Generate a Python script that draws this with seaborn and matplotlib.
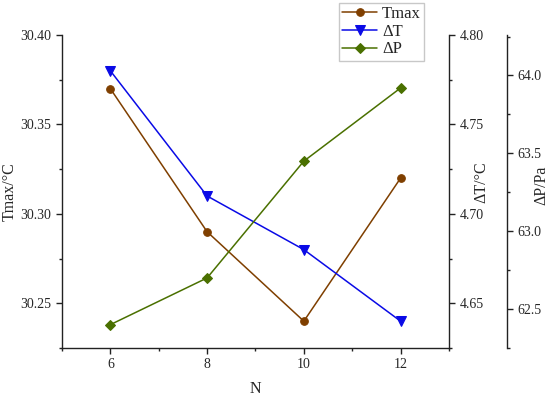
import matplotlib
matplotlib.use('Agg')
import matplotlib.pyplot as plt
import seaborn as sns
from matplotlib.ticker import MultipleLocator, FormatStrFormatter

N = [6, 8, 10, 12]
tmax = [30.37, 30.29, 30.24, 30.32]
delta_t = [4.78, 4.71, 4.68, 4.64]
delta_p = [62.40, 62.70, 63.45, 63.92]

C_TMAX = '#7f3f00'
C_DT = '#0a0ae6'
C_DP = '#4a7000'

sns.set_style('ticks')
plt.rcParams['font.family'] = ['Liberation Serif', 'DejaVu Serif']

fig = plt.figure(figsize=(5.5, 3.96), dpi=100)
ax = fig.add_axes([0.1127, 0.1212, 0.7036, 0.7904])
ax2 = ax.twinx()
ax3 = ax.twinx()
ax3.spines['right'].set_position(('axes', 1.15))

sns.lineplot(x=N, y=tmax, ax=ax, color=C_TMAX, marker='o', markersize=5.5,
             markeredgecolor=C_TMAX, linewidth=1.1, label='Tmax', legend=False)
sns.lineplot(x=N, y=delta_t, ax=ax2, color=C_DT, marker='v', markersize=6.5,
             markeredgecolor=C_DT, linewidth=1.1, label='ΔT', legend=False)
sns.lineplot(x=N, y=delta_p, ax=ax3, color=C_DP, marker='D', markersize=5,
             markeredgecolor=C_DP, linewidth=1.1, label='ΔP', legend=False)

ax.set_xlim(5, 13)
ax.set_ylim(30.225, 30.40)
ax2.set_ylim(4.625, 4.80)
ax3.set_ylim(62.25, 64.26)

ax.xaxis.set_major_locator(MultipleLocator(2))
ax.xaxis.set_minor_locator(MultipleLocator(1))
ax.yaxis.set_major_locator(MultipleLocator(0.05))
ax.yaxis.set_minor_locator(MultipleLocator(0.025))
ax2.yaxis.set_major_locator(MultipleLocator(0.05))
ax2.yaxis.set_minor_locator(MultipleLocator(0.025))
ax3.yaxis.set_major_locator(MultipleLocator(0.5))
ax3.yaxis.set_minor_locator(MultipleLocator(0.25))

ax.yaxis.set_major_formatter(FormatStrFormatter('%.2f'))
ax2.yaxis.set_major_formatter(FormatStrFormatter('%.2f'))
ax3.yaxis.set_major_formatter(FormatStrFormatter('%.1f'))

for a in (ax, ax2, ax3):
    a.spines['top'].set_visible(False)
    for s in a.spines.values():
        s.set_linewidth(1.0)
        s.set_color('#222222')
    a.tick_params(which='major', direction='out', length=4.5, width=1.0,
                  labelsize=10, color='#222222', pad=3)
    a.tick_params(which='minor', direction='out', length=2.5, width=1.0,
                  color='#222222')
ax.spines['right'].set_visible(False)
ax2.spines['left'].set_visible(False)
ax2.spines['bottom'].set_visible(False)
ax3.spines['left'].set_visible(False)
ax3.spines['bottom'].set_visible(False)

ax.set_xlabel('N', fontsize=11.5)
ax.set_ylabel('Tmax/°C', fontsize=11.5)
ax2.set_ylabel('ΔT/°C', fontsize=11.5)
ax3.set_ylabel('ΔP/Pa', fontsize=11.5)
ax.xaxis.set_label_coords(0.5, -0.105)
ax.yaxis.set_label_coords(-0.114, 0.5)
ax2.yaxis.set_label_coords(1.062, 0.529)
ax3.yaxis.set_label_coords(1.217, 0.521)

handles = []
labels = []
for a in (ax, ax2, ax3):
    h, l = a.get_legend_handles_labels()
    handles += h
    labels += l
fig.legend(handles, labels, loc='upper left', bbox_to_anchor=(0.616, 0.993),
           fontsize=12, frameon=True, fancybox=False, edgecolor='#bbbbbb',
           borderpad=0.2, labelspacing=0.1, handlelength=2.1,
           handletextpad=0.3, borderaxespad=0)

fig.savefig('out.png', dpi=100)
